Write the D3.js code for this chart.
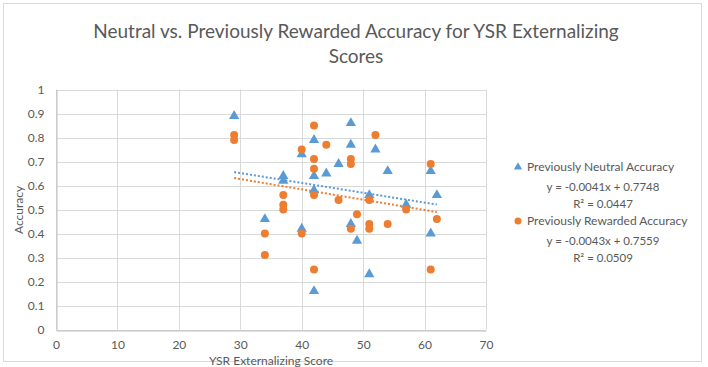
<!DOCTYPE html>
<html>
<head>
<meta charset="utf-8">
<script src="https://cdn.jsdelivr.net/npm/d3@7"></script>
<style>
  html, body { margin: 0; padding: 0; background: #fff; }
  svg { display: block; }
  text { font-family: Lato, "Open Sans", sans-serif; fill: #595959; }
</style>
</head>
<body>
<svg id="chart" width="708" height="367"></svg>
<script>
// ---- data ----
const titleLines = ["Neutral vs. Previously Rewarded Accuracy for YSR Externalizing", "Scores"];
const xTicks = [0, 10, 20, 30, 40, 50, 60, 70];
const yTicks = [0, 0.1, 0.2, 0.3, 0.4, 0.5, 0.6, 0.7, 0.8, 0.9, 1];
const xLabel = "YSR Externalizing Score";
const yLabel = "Accuracy";

const neutralX = [29, 34, 37, 37, 40, 40, 42, 42, 42, 42, 44, 46, 48, 48, 48, 49, 51, 51, 52, 54, 57, 61, 61, 62];
const neutralY = [0.89, 0.46, 0.64, 0.62, 0.73, 0.42, 0.79, 0.64, 0.58, 0.16, 0.65, 0.69, 0.86, 0.77, 0.44, 0.37, 0.56, 0.23, 0.75, 0.66, 0.52, 0.66, 0.40, 0.56];

const rewardedX = [29, 29, 34, 34, 37, 37, 37, 40, 40, 42, 42, 42, 42, 42, 44, 46, 48, 48, 48, 49, 51, 51, 51, 52, 54, 57, 61, 61, 62];
const rewardedY = [0.81, 0.79, 0.40, 0.31, 0.56, 0.52, 0.50, 0.75, 0.40, 0.85, 0.71, 0.67, 0.56, 0.25, 0.77, 0.54, 0.71, 0.69, 0.42, 0.48, 0.54, 0.44, 0.42, 0.81, 0.44, 0.50, 0.69, 0.25, 0.46];

const seriesNames = ["Previously Neutral Accuracy", "Previously Rewarded Accuracy"];
const trendSlopes = [-0.0041, -0.0043];
const trendIntercepts = [0.7748, 0.7559];
const trendEquations = ["y = -0.0041x + 0.7748", "y = -0.0043x + 0.7559"];
const trendR2 = ["R² = 0.0447", "R² = 0.0509"];

// ---- drawing ----
const colors = ["#5B9BD5", "#ED7D31"];
const svg = d3.select("#chart");

// outer chart border
svg.append("rect").attr("x", 3.5).attr("y", 3.5).attr("width", 698).attr("height", 358)
  .attr("fill", "#fff").attr("stroke", "#d9d9d9").attr("stroke-width", 1);

const x = d3.scaleLinear().domain([0, 70]).range([56, 486]);
const y = d3.scaleLinear().domain([0, 1]).range([329.5, 89.5]);

// gridlines
const g = svg.append("g");
g.selectAll("line.hg").data(yTicks).join("line")
  .attr("x1", x(0)).attr("x2", x(70))
  .attr("y1", d => Math.round(y(d)) + 0.5).attr("y2", d => Math.round(y(d)) + 0.5)
  .attr("stroke", "#d9d9d9").attr("stroke-width", 1);
g.selectAll("line.vg").data(xTicks).join("line")
  .attr("y1", y(0)).attr("y2", y(1))
  .attr("x1", d => Math.round(x(d)) + 0.5).attr("x2", d => Math.round(x(d)) + 0.5)
  .attr("stroke", "#d9d9d9").attr("stroke-width", 1);

// axes (labels only, gray axis lines)
const xAxis = svg.append("g").attr("transform", `translate(0,${Math.round(y(0)) + 0.5})`)
  .call(d3.axisBottom(x).tickValues(xTicks).tickSize(0).tickPadding(10).tickFormat(d3.format("d")));
xAxis.select(".domain").attr("stroke", "#bfbfbf");
xAxis.selectAll("text").style("font-size", "12px").attr("fill", "#595959");

const yAxis = svg.append("g").attr("transform", `translate(${Math.round(x(0)) + 0.5},0)`)
  .call(d3.axisLeft(y).tickValues(yTicks).tickSize(0).tickPadding(12).tickFormat(d => d === 0 || d === 1 ? d3.format("d")(d) : d3.format(".1f")(d)));
yAxis.select(".domain").attr("stroke", "#bfbfbf");
yAxis.selectAll("text").style("font-size", "12px").attr("fill", "#595959");

// trendlines
trendSlopes.forEach((m, i) => {
  const xs = i === 0 ? neutralX : rewardedX;
  const x0 = d3.min(xs), x1 = d3.max(xs);
  svg.append("line")
    .attr("x1", x(x0)).attr("y1", y(m * x0 + trendIntercepts[i]))
    .attr("x2", x(x1)).attr("y2", y(m * x1 + trendIntercepts[i]))
    .attr("stroke", colors[i]).attr("stroke-width", 2).attr("stroke-dasharray", "2,2");
});

// points
const tri = d3.symbol().type(d3.symbolTriangle).size(46);
svg.append("g").selectAll("path").data(neutralX.map((v, i) => [v, neutralY[i]])).join("path")
  .attr("d", tri).attr("transform", d => `translate(${x(d[0])},${y(d[1])})`)
  .attr("fill", colors[0]);
svg.append("g").selectAll("circle").data(rewardedX.map((v, i) => [v, rewardedY[i]])).join("circle")
  .attr("cx", d => x(d[0])).attr("cy", d => y(d[1])).attr("r", 4)
  .attr("fill", colors[1]);

// title
svg.selectAll("text.title").data(titleLines).join("text")
  .attr("class", "title")
  .attr("x", 356).attr("y", (d, i) => 38 + i * 25)
  .attr("text-anchor", "middle").style("font-size", "19px").text(d => d);

// axis titles
svg.append("text").attr("x", 271).attr("y", 365).attr("text-anchor", "middle")
  .style("font-size", "12px").text(xLabel);
svg.append("text").attr("transform", "translate(23,210) rotate(-90)").attr("text-anchor", "middle")
  .style("font-size", "12px").text(yLabel);

// legend
const legY = [167, 221];
seriesNames.forEach((name, i) => {
  if (i === 0) {
    svg.append("path").attr("d", d3.symbol().type(d3.symbolTriangle).size(30)).attr("transform", `translate(518,${legY[i]})`).attr("fill", colors[0]);
  } else {
    svg.append("circle").attr("cx", 518).attr("cy", legY[i]).attr("r", 3.5).attr("fill", colors[1]);
  }
  svg.append("text").attr("x", 527).attr("y", legY[i] + 4).style("font-size", "12px").text(name);
  svg.append("text").attr("x", 603).attr("y", legY[i] + 24).attr("text-anchor", "middle").style("font-size", "11.5px").text(trendEquations[i]);
  svg.append("text").attr("x", 603).attr("y", legY[i] + 41).attr("text-anchor", "middle").style("font-size", "11.5px").text(trendR2[i]);
});
</script>
</body>
</html>
